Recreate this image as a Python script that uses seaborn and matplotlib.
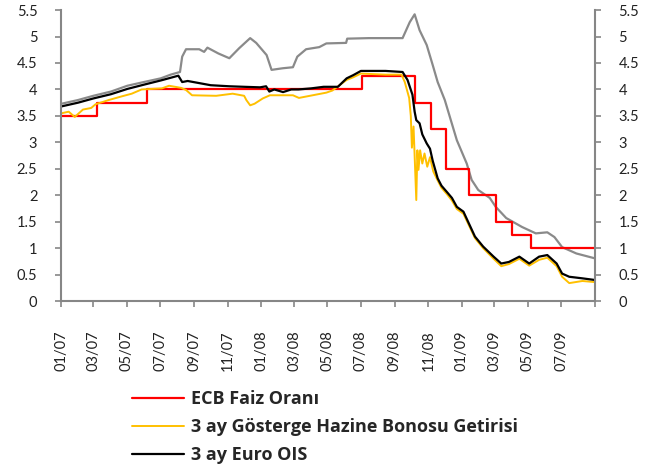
import matplotlib
matplotlib.use("Agg")
import matplotlib.pyplot as plt
import pandas as pd
import seaborn as sns
from matplotlib.ticker import FormatStrFormatter

# ECB policy rate (announcement dates)
ecb_dates = ["2007-01-02", "2007-03-08", "2007-06-06", "2008-07-03", "2008-10-08",
             "2008-11-06", "2008-12-04", "2009-01-15", "2009-03-05", "2009-04-02",
             "2009-05-07", "2009-08-31"]
ecb_vals = [3.50, 3.75, 4.00, 4.25, 3.75, 3.25, 2.50, 2.00, 1.50, 1.25, 1.00, 1.00]

# 3-month Euribor (grey line)
euribor_dates = ["2007-01-02", "2007-02-01", "2007-03-01", "2007-04-02", "2007-05-02",
                 "2007-06-01", "2007-07-02", "2007-07-20", "2007-08-06", "2007-08-10",
                 "2007-08-17", "2007-09-10", "2007-09-19", "2007-09-25", "2007-10-15",
                 "2007-11-04", "2007-11-22", "2007-12-12", "2007-12-23", "2008-01-11",
                 "2008-01-20", "2008-02-09", "2008-02-28", "2008-03-07", "2008-03-23",
                 "2008-04-16", "2008-04-29", "2008-06-04", "2008-06-06", "2008-07-15",
                 "2008-09-15", "2008-09-28", "2008-10-07", "2008-10-16", "2008-10-29",
                 "2008-11-09", "2008-11-18", "2008-12-01", "2008-12-23", "2009-01-10",
                 "2009-01-19", "2009-01-31", "2009-02-21", "2009-03-04", "2009-03-23",
                 "2009-04-21", "2009-05-16", "2009-06-06", "2009-06-19", "2009-07-03",
                 "2009-07-29", "2009-08-31"]
euribor_vals = [3.73, 3.80, 3.88, 3.96, 4.07, 4.14, 4.21, 4.28, 4.33, 4.62,
                4.76, 4.76, 4.71, 4.79, 4.68, 4.59, 4.78, 4.97, 4.88, 4.65,
                4.37, 4.40, 4.42, 4.62, 4.76, 4.80, 4.87, 4.88, 4.96, 4.97,
                4.97, 5.27, 5.42, 5.12, 4.84, 4.46, 4.14, 3.80, 3.04, 2.60,
                2.29, 2.10, 1.95, 1.78, 1.57, 1.40, 1.28, 1.30, 1.21, 1.02,
                0.90, 0.81]

# 3-month benchmark T-bill yield
bill_dates = ["2007-01-02", "2007-01-15", "2007-01-26", "2007-02-10", "2007-02-25",
              "2007-03-05", "2007-03-29", "2007-04-22", "2007-05-10", "2007-05-28",
              "2007-07-04", "2007-07-17", "2007-08-08", "2007-08-17", "2007-08-28",
              "2007-10-11", "2007-11-10", "2007-12-01", "2007-12-05", "2007-12-12",
              "2007-12-20", "2008-01-04", "2008-01-17", "2008-02-28", "2008-03-10",
              "2008-04-04", "2008-04-29", "2008-05-10", "2008-06-05", "2008-06-17",
              "2008-07-01", "2008-08-15", "2008-09-13", "2008-09-19", "2008-09-27",
              "2008-09-30", "2008-10-02", "2008-10-05", "2008-10-10", "2008-10-12",
              "2008-10-14", "2008-10-17", "2008-10-21", "2008-10-25", "2008-10-30",
              "2008-11-04", "2008-11-10", "2008-11-18", "2008-11-25", "2008-12-05",
              "2008-12-14", "2008-12-23", "2009-01-04", "2009-01-25", "2009-02-09",
              "2009-02-28", "2009-03-14", "2009-03-28", "2009-04-16", "2009-05-04",
              "2009-05-22", "2009-06-06", "2009-06-23", "2009-07-03", "2009-07-16",
              "2009-08-09", "2009-08-31"]
bill_vals = [3.55, 3.58, 3.48, 3.62, 3.65, 3.72, 3.80, 3.87, 3.92, 4.00,
             4.02, 4.07, 4.03, 3.99, 3.89, 3.88, 3.92, 3.88, 3.80, 3.70,
             3.73, 3.83, 3.89, 3.89, 3.84, 3.89, 3.94, 3.98, 4.18, 4.23,
             4.30, 4.28, 4.28, 4.14, 3.84, 3.50, 2.90, 3.30, 1.91, 2.85,
             2.48, 2.85, 2.60, 2.79, 2.54, 2.72, 2.45, 2.28, 2.14, 2.02,
             1.90, 1.74, 1.65, 1.19, 1.00, 0.80, 0.66, 0.70, 0.80, 0.67,
             0.78, 0.82, 0.66, 0.46, 0.34, 0.38, 0.36]

# 3-month Euro OIS
ois_dates = ["2007-01-02", "2007-02-01", "2007-03-01", "2007-04-02", "2007-05-02",
             "2007-06-01", "2007-07-02", "2007-08-03", "2007-08-10", "2007-08-20",
             "2007-09-10", "2007-10-01", "2007-11-04", "2007-12-01", "2007-12-30",
             "2008-01-10", "2008-01-16", "2008-01-25", "2008-02-10", "2008-02-25",
             "2008-03-09", "2008-04-01", "2008-04-24", "2008-05-20", "2008-06-05",
             "2008-06-17", "2008-07-01", "2008-08-15", "2008-09-15", "2008-09-24",
             "2008-10-03", "2008-10-07", "2008-10-10", "2008-10-16", "2008-10-21",
             "2008-10-29", "2008-11-04", "2008-11-09", "2008-11-18", "2008-11-25",
             "2008-12-05", "2008-12-14", "2008-12-23", "2009-01-04", "2009-01-25",
             "2009-02-09", "2009-02-28", "2009-03-14", "2009-03-28", "2009-04-16",
             "2009-05-04", "2009-05-22", "2009-06-06", "2009-06-23", "2009-07-03",
             "2009-07-16", "2009-08-09", "2009-08-31"]
ois_vals = [3.68, 3.75, 3.83, 3.91, 4.01, 4.09, 4.17, 4.26, 4.14, 4.16,
            4.12, 4.08, 4.06, 4.05, 4.04, 4.06, 3.96, 4.00, 3.95, 4.00,
            4.00, 4.02, 4.05, 4.05, 4.21, 4.27, 4.35, 4.35, 4.33, 4.18,
            3.90, 3.58, 3.42, 3.36, 3.15, 2.98, 2.88, 2.65, 2.32, 2.18,
            2.06, 1.95, 1.78, 1.69, 1.22, 1.03, 0.84, 0.71, 0.74, 0.84,
            0.71, 0.84, 0.87, 0.71, 0.52, 0.46, 0.43, 0.40]

legend_labels = ["ECB Faiz Oranı", "3 ay Gösterge Hazine Bonosu Getirisi", "3 ay Euro OIS"]
y_ticks = [0, 0.5, 1, 1.5, 2, 2.5, 3, 3.5, 4, 4.5, 5, 5.5]


def frame(dates, vals):
    return pd.DataFrame({"date": pd.to_datetime(dates), "val": vals})


sns.set_style("white")
plt.rcParams["font.family"] = ["Lato", "DejaVu Sans"]

fig = plt.figure(figsize=(6.59, 4.69), dpi=100)
ax = fig.add_axes([0.0926, 0.358, 0.8103, 0.6205])

grey, red, gold, black = "#8a8a8a", "#ff0000", "#ffc000", "#000000"

sns.lineplot(data=frame(euribor_dates, euribor_vals), x="date", y="val", ax=ax,
             color=grey, lw=1.6, label="_euribor", legend=False)
sns.lineplot(data=frame(ecb_dates, ecb_vals), x="date", y="val", ax=ax,
             color=red, lw=1.6, drawstyle="steps-post", label=legend_labels[0], legend=False)
sns.lineplot(data=frame(bill_dates, bill_vals), x="date", y="val", ax=ax,
             color=gold, lw=1.4, label=legend_labels[1], legend=False)
sns.lineplot(data=frame(ois_dates, ois_vals), x="date", y="val", ax=ax,
             color=black, lw=1.6, label=legend_labels[2], legend=False)

ax.set_xlim(pd.Timestamp("2007-01-01"), pd.Timestamp("2009-09-01"))
ax.set_ylim(0, 5.5)
ax.set_xlabel("")
ax.set_ylabel("")

ticks = pd.date_range("2007-01-01", "2009-09-01", freq="2MS")
ax.set_xticks(ticks)
ax.set_xticklabels([t.strftime("%m/%y") for t in ticks[:-1]] + [""],
                   rotation=90, fontsize=10.5, color="#222222")
ax.set_yticks(y_ticks)
ax.yaxis.set_major_formatter(FormatStrFormatter("%g"))

ax2 = ax.twinx()
ax2.set_ylim(0, 5.5)
ax2.set_yticks(y_ticks)
ax2.yaxis.set_major_formatter(FormatStrFormatter("%g"))

axis_col = "#868686"
for a in (ax, ax2):
    for s in a.spines.values():
        s.set_visible(False)
ax.spines["left"].set_visible(True)
ax.spines["bottom"].set_visible(True)
ax2.spines["right"].set_visible(True)
for s in (ax.spines["left"], ax.spines["bottom"], ax2.spines["right"]):
    s.set_color(axis_col)
    s.set_linewidth(1.5)

ax.tick_params(axis="x", direction="out", length=4, width=1.2, color=axis_col,
               pad=17, bottom=True)
ax.tick_params(axis="y", direction="out", length=4, width=1.2, color=axis_col,
               labelsize=10.5, labelcolor="#222222", pad=13, left=True)
ax2.tick_params(axis="y", direction="out", length=4, width=1.2, color=axis_col,
                labelsize=10.5, labelcolor="#222222", pad=13, right=True)

handles = [l for l in ax.get_lines() if l.get_label() in legend_labels]
fig.legend(handles, [h.get_label() for h in handles], loc="upper left",
           bbox_to_anchor=(0.2, 0.168), frameon=False, handlelength=2.9,
           handletextpad=0.4, labelspacing=0.55, borderpad=0, borderaxespad=0,
           prop={"family": ["Open Sans", "DejaVu Sans"], "weight": "bold", "size": 13})

fig.savefig("out.png", dpi=100)
